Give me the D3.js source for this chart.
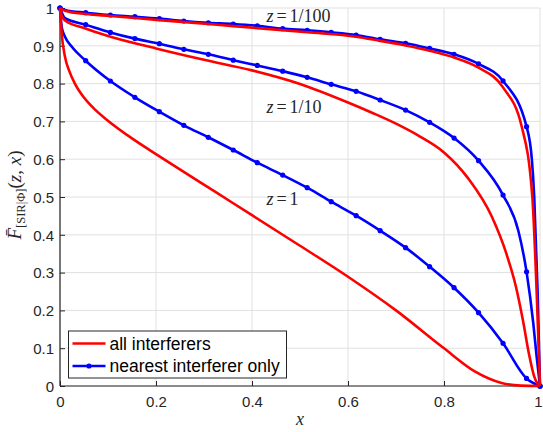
<!DOCTYPE html>
<html>
<head>
<meta charset="utf-8">
<script src="https://cdn.jsdelivr.net/npm/d3@7"></script>
<style>
  body { margin: 0; background: #fff; }
  svg { display: block; }
</style>
</head>
<body>
<svg id="chart"></svg>
<script>
// dimension settings
const width = 543;
const height = 432;
const margin = { top: 8, right: 3, bottom: 46, left: 60 };
const innerW = width - margin.left - margin.right;
const innerH = height - margin.top - margin.bottom;

// tick values and labels
const xTicks = [0, 0.2, 0.4, 0.6, 0.8, 1];
const xTickLabels = ["0", "0.2", "0.4", "0.6", "0.8", "1"];
const yTicks = [0, 0.1, 0.2, 0.3, 0.4, 0.5, 0.6, 0.7, 0.8, 0.9, 1];
const yTickLabels = ["0", "0.1", "0.2", "0.3", "0.4", "0.5", "0.6", "0.7", "0.8", "0.9", "1"];

// nearest interferer only: values at the marker positions
const markerX = [0, 0.0535, 0.105, 0.156, 0.207, 0.258, 0.309, 0.361, 0.411, 0.464, 0.515,
  0.565, 0.617, 0.667, 0.720, 0.770, 0.821, 0.872, 0.923, 0.972, 1];
const nearestZ100 = [1, 0.9876, 0.9815, 0.977, 0.972, 0.9656, 0.961, 0.9577, 0.953, 0.9454, 0.941,
  0.9357, 0.9286, 0.917, 0.9066, 0.893, 0.8775, 0.852, 0.807, 0.686, 0];
const nearestZ10 = [1, 0.956, 0.9355, 0.919, 0.9056, 0.8907, 0.8774, 0.862, 0.848, 0.833, 0.8166,
  0.798, 0.7795, 0.7566, 0.730, 0.6975, 0.656, 0.596, 0.505, 0.302, 0];
const nearestZ1 = [1, 0.8606, 0.8069, 0.7638, 0.7257, 0.6897, 0.658, 0.6243, 0.5907, 0.558, 0.5246,
  0.4876, 0.4505, 0.411, 0.366, 0.3157, 0.260, 0.194, 0.113, 0.020, 0];
// extra points read along the lines between markers
const nearestZ100Extra = [[0.0104, 0.995], [0.983, 0.6], [0.988, 0.5], [0.995, 0.25]];
const nearestZ10Extra = [[0.0104, 0.973], [0.955, 0.41], [0.986, 0.166], [0.993, 0.078]];
const nearestZ1Extra = [[0.0035, 0.95], [0.0104, 0.924], [0.0243, 0.898]];

// all interferers
const allZ100X = [0, 0.0104, 0.0535, 0.105, 0.207, 0.309, 0.361, 0.515, 0.617, 0.667, 0.72, 0.77,
  0.821, 0.872, 0.923, 0.962, 0.984, 0.993, 1];
const allZ100 = [1, 0.993, 0.984, 0.979, 0.968, 0.9577, 0.952, 0.9357, 0.924, 0.913, 0.901, 0.887,
  0.869, 0.842, 0.79, 0.686, 0.5, 0.25, 0];
const allZ10X = [0, 0.0035, 0.0104, 0.05, 0.1, 0.2, 0.3, 0.4, 0.5, 0.6, 0.65, 0.7, 0.75, 0.8,
  0.85, 0.9, 0.93, 0.95, 0.965, 0.977, 0.988, 0.995, 1];
const allZ10 = [1, 0.98, 0.967, 0.947, 0.926, 0.893, 0.863, 0.835, 0.799, 0.750, 0.723, 0.694,
  0.660, 0.618, 0.550, 0.447, 0.350, 0.262, 0.170, 0.085, 0.025, 0.006, 0];
const allZ1X = [0, 0.0035, 0.0104, 0.02, 0.031, 0.05, 0.073, 0.094, 0.15, 0.208, 0.323, 0.4, 0.5,
  0.6, 0.7, 0.8, 0.865, 0.92, 0.96, 1];
const allZ1 = [1, 0.933, 0.871, 0.831, 0.8, 0.763, 0.731, 0.708, 0.655, 0.607, 0.514, 0.452, 0.371,
  0.289, 0.200, 0.0997, 0.038, 0.008, 0.001, 0];

// curve labels
const curveLabels = [
  { x: 0.43, y: 0.963, text: "1/100" },
  { x: 0.43, y: 0.722, text: "1/10" },
  { x: 0.43, y: 0.479, text: "1" }
];

const red = "#ff0000";
const blue = "#0000ff";
const axisColor = "#262626";

const svg = d3.select("#chart")
  .attr("width", width)
  .attr("height", height)
  .style("background", "#fff");

const g = svg.append("g")
  .attr("transform", `translate(${margin.left},${margin.top})`);

// scales
const x = d3.scaleLinear().domain([0, 1]).range([0, innerW]);
const y = d3.scaleLinear().domain([0, 1]).range([innerH, 0]);

// grid
g.append("g")
  .selectAll("line")
  .data(xTicks)
  .join("line")
  .attr("x1", d => x(d)).attr("x2", d => x(d))
  .attr("y1", 0).attr("y2", innerH)
  .attr("stroke", "#e1e1e1").attr("stroke-width", 1);

g.append("g")
  .selectAll("line")
  .data(yTicks)
  .join("line")
  .attr("x1", 0).attr("x2", innerW)
  .attr("y1", d => y(d)).attr("y2", d => y(d))
  .attr("stroke", "#e1e1e1").attr("stroke-width", 1);

// axes (ticks pointing inward)
const xAxis = g.append("g")
  .attr("transform", `translate(0,${innerH})`)
  .call(d3.axisBottom(x).tickValues(xTicks).tickSize(-5).tickPadding(10)
    .tickFormat((d, i) => xTickLabels[i]));

const yAxis = g.append("g")
  .call(d3.axisLeft(y).tickValues(yTicks).tickSize(-5).tickPadding(6)
    .tickFormat((d, i) => yTickLabels[i]));

[xAxis, yAxis].forEach(a => {
  a.select(".domain").attr("stroke", axisColor).attr("stroke-width", 1.2);
  a.selectAll(".tick line").attr("stroke", axisColor);
  a.selectAll(".tick text")
    .attr("fill", axisColor)
    .style("font-family", "'Liberation Sans', Arial, sans-serif")
    .style("font-size", "15px");
});
xAxis.select(".domain").attr("d", `M0,0H${innerW}`);
yAxis.select(".domain").attr("d", `M0,${innerH}V0`);
yAxis.selectAll(".tick text").attr("dy", "0.35em");
// keep the last x label inside the page
xAxis.selectAll(".tick text").filter(d => d === 1).attr("dx", -2);

// line generator
const line = d3.line()
  .x(d => x(d[0]))
  .y(d => y(d[1]))
  .curve(d3.curveMonotoneX);

function mergePoints(values, extra) {
  return markerX.map((v, i) => [v, values[i]]).concat(extra).sort((a, b) => a[0] - b[0]);
}

const nearestSeries = [
  { values: nearestZ100, extra: nearestZ100Extra },
  { values: nearestZ10, extra: nearestZ10Extra },
  { values: nearestZ1, extra: nearestZ1Extra }
];
const allSeries = [
  { xs: allZ100X, values: allZ100 },
  { xs: allZ10X, values: allZ10 },
  { xs: allZ1X, values: allZ1 }
];

// nearest interferer only (blue with markers)
nearestSeries.forEach(s => {
  g.append("path")
    .datum(mergePoints(s.values, s.extra))
    .attr("fill", "none")
    .attr("stroke", blue)
    .attr("stroke-width", 2.6)
    .attr("d", line);

  g.append("g")
    .selectAll("circle")
    .data(markerX.map((v, i) => [v, s.values[i]]))
    .join("circle")
    .attr("cx", d => x(d[0]))
    .attr("cy", d => y(d[1]))
    .attr("r", 2.6)
    .attr("fill", blue);
});

// all interferers (red)
allSeries.forEach(s => {
  g.append("path")
    .datum(s.xs.map((v, i) => [v, s.values[i]]))
    .attr("fill", "none")
    .attr("stroke", red)
    .attr("stroke-width", 2.6)
    .attr("d", line);
});

// curve labels
const labels = g.append("g")
  .selectAll("text")
  .data(curveLabels)
  .join("text")
  .attr("x", d => x(d.x))
  .attr("y", d => y(d.y))
  .attr("fill", axisColor)
  .style("font-family", "'Liberation Serif', 'Times New Roman', serif")
  .style("font-size", "18px");
labels.append("tspan").attr("font-style", "italic").text("z");
labels.append("tspan").attr("dx", 3).text("=");
labels.append("tspan").attr("dx", 3).text(d => d.text);

// x axis label
svg.append("text")
  .attr("x", margin.left + innerW / 2)
  .attr("y", 425)
  .attr("text-anchor", "middle")
  .attr("fill", axisColor)
  .style("font-family", "'Liberation Serif', 'Times New Roman', serif")
  .style("font-style", "italic")
  .style("font-size", "18px")
  .text("x");

// y axis label
const yLabel = svg.append("text")
  .attr("transform", "translate(21,195) rotate(-90)")
  .attr("text-anchor", "middle")
  .attr("fill", axisColor)
  .style("font-family", "'Liberation Serif', 'Times New Roman', serif")
  .style("font-size", "19px");
yLabel.append("tspan").attr("font-style", "italic").text("F\u0304");
yLabel.append("tspan").attr("dy", 4).style("font-size", "12.5px").text("[SIR|\u03A6]");
yLabel.append("tspan").attr("dy", -4).text("(");
yLabel.append("tspan").attr("font-style", "italic").text("z");
yLabel.append("tspan").text(", ");
yLabel.append("tspan").attr("font-style", "italic").text("x");
yLabel.append("tspan").text(")");

// legend
const legend = svg.append("g")
  .attr("transform", "translate(68.5,331)");

legend.append("rect")
  .attr("width", 218)
  .attr("height", 47)
  .attr("fill", "#fff")
  .attr("stroke", axisColor)
  .attr("stroke-width", 1);

const legendItems = [
  { label: "all interferers", color: red, marker: false },
  { label: "nearest interferer only", color: blue, marker: true }
];

const items = legend.selectAll(".item")
  .data(legendItems)
  .join("g")
  .attr("class", "item")
  .attr("transform", (d, i) => `translate(0,${12.5 + i * 22.5})`);

items.append("line")
  .attr("x1", 4).attr("x2", 37)
  .attr("stroke", d => d.color)
  .attr("stroke-width", 2.6);

items.filter(d => d.marker)
  .append("circle")
  .attr("cx", 20.5)
  .attr("r", 2.6)
  .attr("fill", d => d.color);

items.append("text")
  .attr("x", 41)
  .attr("dy", "0.36em")
  .attr("fill", "#000")
  .style("font-family", "'Liberation Sans', Arial, sans-serif")
  .style("font-size", "17.5px")
  .text(d => d.label);
</script>
</body>
</html>
